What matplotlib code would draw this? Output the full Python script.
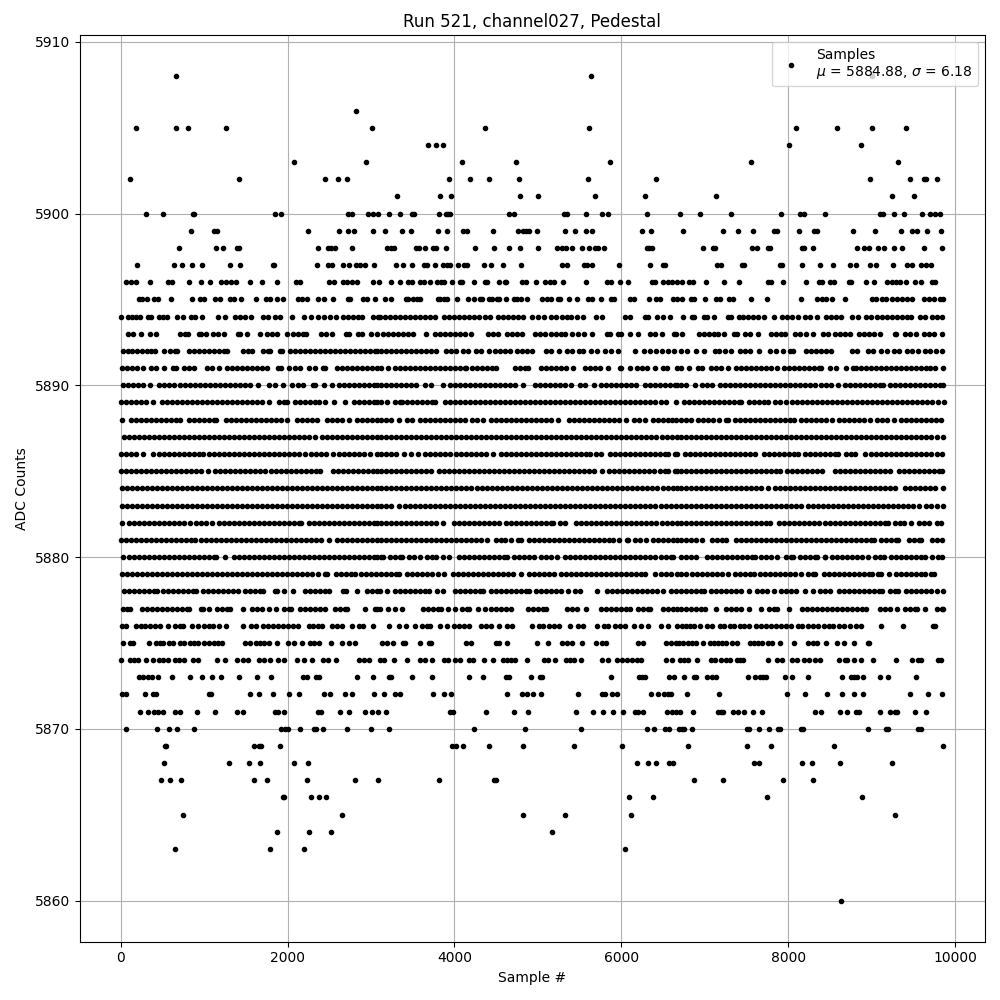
#!/usr/bin/env python3
#
# Plot pedestal samples of one ADC channel
#

import matplotlib
matplotlib.use('Agg')
import matplotlib.pyplot as plt

MEAN_ADC = 5884.88
SIGMA_ADC = 6.18

# sample numbers, one list for each ADC count
s5860 = [8636]
s5863 = [648, 1788, 2196, 6048]
s5864 = [1872, 2256, 2520, 5172]
s5865 = [744, 2652, 4824, 5328, 6120, 9284]
s5866 = [1944, 1956, 2280, 2376, 2460, 6096, 6384, 7748, 8888]
s5867 = [480, 588, 720, 1596, 1752, 2232, 2808, 3084, 3816, 4476, 4500, 6872, 7220, 7940, 8300]
s5868 = [516, 1296, 1536, 1668, 2076, 2244, 6192, 6324, 6420, 6576, 6624, 7592, 7652, 8168, 8288, 8624, 9248]
s5869 = [528, 544, 1596, 1656, 1680, 1908, 3972, 4020, 4104, 4416, 4824, 5436, 6012, 6800, 7508, 7796, 8552, 9860]
s5870 = [60, 432, 576, 672, 876, 1920, 1968, 2004, 2148, 2316, 2340, 2424, 2712, 3000, 3216, 4236, 4848, 5520, 6312,
         6396, 6528, 6576, 6692, 6728, 6752, 6848, 7508, 7532, 7652, 7772, 7880, 7904, 8156, 8180, 8960, 9176, 9200,
         9560, 9596]
s5871 = [228, 324, 396, 444, 504, 648, 708, 912, 1128, 1392, 1464, 1848, 1884, 1956, 2364, 2400, 2628, 2736, 2928,
         3012, 3084, 3180, 3948, 3984, 4380, 4716, 4884, 5460, 5664, 5784, 5904, 6024, 6168, 6204, 6264, 6552, 6612,
         6660, 6704, 6860, 7160, 7196, 7220, 7340, 7400, 7472, 7580, 7688, 8324, 8396, 8624, 8708, 8816, 8852, 9104,
         9224, 9284, 9308, 9524, 9656]
s5872 = [12, 60, 288, 384, 420, 1056, 1080, 1548, 1656, 1824, 2016, 2136, 2436, 2508, 2688, 2772, 3036, 3156, 3288,
         3348, 3744, 3876, 3960, 4632, 4812, 4872, 4944, 5040, 5484, 5772, 5808, 5892, 5952, 6360, 6444, 6516, 6564,
         6600, 6788, 7172, 7988, 8204, 8468, 8648, 8792, 8900, 9464, 9680, 9848]
s5873 = [216, 264, 324, 372, 444, 612, 828, 972, 1092, 1200, 1416, 1632, 1800, 2184, 2232, 2340, 2376, 2832, 3024,
         3216, 3240, 3492, 3732, 4176, 4344, 4620, 4656, 4920, 5028, 5052, 5880, 6216, 6252, 6288, 6576, 6636, 6752,
         6872, 6896, 7028, 7088, 7136, 7520, 7604, 7664, 7700, 7736, 7964, 8048, 8240, 8648, 8756, 8792, 8828, 8900,
         9104, 9200, 9536]
s5874 = [0, 108, 156, 204, 300, 384, 456, 504, 564, 648, 696, 756, 864, 924, 1152, 1248, 1392, 1464, 1524, 1656, 1716,
         1788, 1884, 1956, 2112, 2196, 2292, 2424, 2484, 2580, 2856, 2916, 2976, 3108, 3156, 3276, 3432, 3588, 3648,
         3732, 3876, 3924, 4008, 4068, 4176, 4224, 4356, 4464, 4584, 4632, 4680, 4728, 4872, 5076, 5124, 5208, 5340,
         5388, 5436, 5520, 5772, 5844, 5952, 6012, 6072, 6132, 6192, 6240, 6540, 6612, 6704, 6752, 6800, 6908, 7076,
         7124, 7196, 7256, 7304, 7388, 7424, 7460, 7760, 7868, 7928, 8048, 8108, 8192, 8252, 8324, 8384, 8612, 8684,
         8708, 8792, 8876, 9020, 9296, 9488, 9560, 9596, 9800, 9836]
s5875 = [24, 108, 144, 336, 420, 468, 504, 576, 624, 708, 756, 828, 876, 924, 996, 1056, 1116, 1164, 1212, 1488, 1548,
         1620, 1668, 1716, 1776, 1872, 2004, 2076, 2172, 2268, 2316, 2376, 2520, 2652, 2736, 2808, 3132, 3192, 3264,
         3384, 3408, 3588, 3696, 3720, 4140, 4200, 4500, 4536, 4632, 4992, 5124, 5292, 5352, 5412, 5532, 5700, 5772,
         5820, 6204, 6264, 6540, 6600, 6660, 6688, 6740, 6800, 6848, 6896, 6980, 7064, 7112, 7160, 7208, 7256, 7328,
         7388, 7544, 7592, 7640, 7688, 7760, 7808, 7904, 8072, 8240, 8300, 8348, 8456, 8588, 8672, 8792, 8960, 8972]
s5876 = [12, 60, 180, 240, 288, 348, 408, 468, 564, 648, 708, 744, 852, 924, 996, 1056, 1104, 1176, 1260, 1464, 1560,
         1620, 1704, 1764, 1824, 1884, 1944, 2004, 2064, 2124, 2256, 2304, 2364, 2412, 2532, 2592, 2652, 2772, 2856,
         2904, 3024, 3216, 3336, 3420, 3528, 3612, 3672, 3708, 3828, 3912, 4000, 4060, 4120, 4176, 4320, 4380, 4440,
         4536, 4632, 4692, 4932, 5016, 5064, 5136, 5196, 5256, 5388, 5484, 5544, 5712, 5796, 5844, 5928, 5988, 6048,
         6156, 6240, 6324, 6480, 6564, 6672, 6728, 6776, 6824, 6872, 6944, 7028, 7088, 7184, 7232, 7304, 7352, 7424,
         7472, 7532, 7616, 7676, 7736, 7796, 7856, 7916, 7976, 8036, 8120, 8168, 8240, 8300, 8360, 8432, 8492, 8540,
         8612, 8672, 8744, 8816, 8876, 9116, 9380, 9740, 9764]
s5877 = [25, 80, 115, 254, 310, 370, 430, 490, 550, 610, 670, 730, 790, 814, 966, 986, 1060, 1154, 1214, 1274, 1306,
         1464, 1574, 1634, 1694, 1774, 1862, 1958, 2018, 2042, 2154, 2214, 2274, 2334, 2394, 2454, 2566, 2626, 2686,
         2714, 2928, 3054, 3074, 3108, 3204, 3286, 3374, 3622, 3682, 3742, 3802, 3842, 3924, 4008, 4094, 4150, 4174,
         4282, 4362, 4442, 4502, 4562, 4622, 4682, 4882, 4942, 5002, 5062, 5102, 5354, 5414, 5470, 5580, 5762, 5822,
         5882, 5942, 6002, 6062, 6102, 6202, 6262, 6322, 6350, 6502, 6562, 6622, 6662, 6718, 6778, 6838, 6898, 6958,
         6998, 7138, 7258, 7318, 7378, 7438, 7530, 7678, 7766, 7826, 7866, 8012, 8166, 8226, 8286, 8346, 8406, 8466,
         8526, 8586, 8646, 8706, 8766, 8826, 8886, 8938, 9106, 9166, 9218, 9302, 9398, 9458, 9518, 9546, 9638, 9778,
         9838, 9858]
s5878 = [38, 98, 158, 218, 278, 338, 398, 434, 506, 566, 626, 686, 746, 806, 866, 906, 982, 1042, 1102, 1162, 1222,
         1282, 1342, 1410, 1486, 1546, 1606, 1666, 1706, 1846, 1874, 1962, 2068, 2206, 2266, 2326, 2386, 2446, 2502,
         2666, 2702, 2838, 2954, 3014, 3074, 3108, 3192, 3290, 3350, 3410, 3470, 3530, 3590, 3650, 3694, 3794, 3862,
         4010, 4070, 4130, 4190, 4250, 4310, 4342, 4442, 4502, 4562, 4622, 4682, 4742, 4802, 4862, 4894, 4982, 5042,
         5102, 5162, 5222, 5282, 5362, 5442, 5510, 5712, 5834, 5894, 5954, 6014, 6074, 6134, 6194, 6254, 6314, 6374,
         6434, 6502, 6594, 6654, 6718, 6778, 6838, 6898, 6958, 6994, 7078, 7138, 7198, 7258, 7318, 7378, 7438, 7530,
         7630, 7690, 7750, 7826, 7918, 7978, 8038, 8098, 8198, 8298, 8378, 8438, 8506, 8610, 8670, 8730, 8790, 8850,
         8910, 8970, 9030, 9090, 9130, 9218, 9278, 9318, 9418, 9478, 9538, 9598, 9658, 9718, 9778, 9850]
s5879 = [14, 74, 134, 194, 254, 314, 374, 434, 494, 554, 614, 674, 734, 794, 854, 914, 974, 1034, 1094, 1154, 1214,
         1274, 1334, 1394, 1454, 1514, 1574, 1634, 1694, 1754, 1814, 1874, 1934, 1994, 2054, 2114, 2174, 2234, 2294,
         2362, 2446, 2474, 2582, 2642, 2702, 2762, 2806, 2886, 2946, 3006, 3066, 3122, 3182, 3242, 3302, 3334, 3434,
         3494, 3554, 3614, 3674, 3734, 3806, 3880, 3986, 4046, 4106, 4166, 4226, 4286, 4346, 4406, 4466, 4526, 4586,
         4646, 4706, 4802, 4890, 4950, 5010, 5070, 5130, 5190, 5282, 5342, 5402, 5462, 5522, 5582, 5642, 5702, 5762,
         5822, 5882, 5942, 6002, 6062, 6122, 6182, 6242, 6282, 6410, 6470, 6530, 6590, 6662, 6718, 6778, 6850, 6910,
         6970, 7030, 7090, 7150, 7210, 7274, 7366, 7426, 7486, 7546, 7586, 7658, 7718, 7778, 7838, 7898, 7958, 8018,
         8078, 8158, 8238, 8298, 8326, 8426, 8486, 8546, 8606, 8666, 8726, 8786, 8846, 8906, 8966, 9006, 9078, 9118,
         9214, 9290, 9350, 9410, 9470, 9530, 9590, 9638, 9718, 9746]
s5880 = [22, 102, 162, 222, 282, 342, 402, 462, 522, 582, 642, 702, 762, 822, 882, 942, 1002, 1062, 1122, 1146, 1246,
         1362, 1422, 1482, 1542, 1602, 1662, 1722, 1782, 1842, 1902, 1962, 2022, 2082, 2142, 2202, 2262, 2322, 2382,
         2442, 2502, 2562, 2622, 2682, 2742, 2802, 2862, 2922, 2982, 3042, 3074, 3122, 3142, 3222, 3282, 3342, 3374,
         3450, 3510, 3590, 3674, 3734, 3782, 3866, 3934, 4050, 4110, 4170, 4230, 4290, 4350, 4410, 4470, 4530, 4590,
         4630, 4710, 4770, 4830, 4890, 4950, 5042, 5102, 5162, 5230, 5330, 5390, 5450, 5510, 5570, 5630, 5690, 5750,
         5810, 5870, 5930, 5990, 6050, 6110, 6170, 6230, 6290, 6350, 6410, 6470, 6530, 6590, 6622, 6718, 6778, 6838,
         6898, 7030, 7090, 7150, 7210, 7270, 7330, 7390, 7450, 7510, 7570, 7602, 7678, 7738, 7798, 7866, 7970, 8030,
         8058, 8138, 8198, 8258, 8318, 8346, 8438, 8446, 8530, 8590, 8650, 8710, 8770, 8830, 8890, 8958, 9038, 9098,
         9150, 9238, 9298, 9358, 9418, 9478, 9538, 9598, 9638, 9726, 9798, 9838]
s5881 = [6, 66, 126, 186, 246, 306, 366, 426, 486, 546, 606, 666, 726, 786, 846, 894, 966, 1026, 1086, 1146, 1206,
         1266, 1326, 1386, 1446, 1506, 1566, 1626, 1686, 1746, 1806, 1866, 1926, 1986, 2046, 2106, 2166, 2226, 2286,
         2346, 2406, 2494, 2594, 2654, 2714, 2774, 2834, 2894, 2954, 3014, 3074, 3122, 3182, 3242, 3302, 3362, 3422,
         3482, 3542, 3602, 3662, 3722, 3782, 3842, 3902, 3962, 4022, 4082, 4142, 4202, 4262, 4322, 4390, 4502, 4562,
         4602, 4678, 4762, 4802, 4890, 4950, 5010, 5070, 5130, 5190, 5250, 5310, 5370, 5430, 5490, 5550, 5610, 5670,
         5730, 5790, 5850, 5902, 5972, 6066, 6082, 6162, 6222, 6302, 6382, 6442, 6502, 6562, 6622, 6662, 6718, 6778,
         6838, 6898, 6970, 7090, 7150, 7210, 7258, 7378, 7438, 7498, 7558, 7618, 7678, 7738, 7798, 7858, 7918, 7978,
         8038, 8098, 8158, 8218, 8278, 8338, 8398, 8458, 8518, 8578, 8638, 8698, 8758, 8818, 8878, 8938, 8998, 9026,
         9110, 9170, 9230, 9290, 9318, 9446, 9506, 9566, 9598, 9726, 9786, 9838]
s5882 = [18, 94, 154, 214, 274, 334, 394, 454, 514, 574, 634, 694, 754, 826, 902, 962, 1022, 1094, 1174, 1234,
         1294, 1354, 1414, 1474, 1534, 1594, 1654, 1714, 1774, 1834, 1894, 1954, 2014, 2074, 2134, 2162, 2262, 2322,
         2382, 2442, 2502, 2562, 2622, 2682, 2742, 2802, 2862, 2922, 2982, 3042, 3074, 3122, 3182, 3242, 3302, 3362,
         3422, 3482, 3542, 3602, 3662, 3722, 3782, 3862, 3990, 4050, 4110, 4170, 4230, 4290, 4350, 4410, 4470, 4534,
         4614, 4674, 4734, 4794, 4854, 4914, 4974, 5034, 5094, 5154, 5182, 5262, 5326, 5462, 5522, 5582, 5642, 5702,
         5762, 5822, 5882, 5942, 6002, 6062, 6122, 6182, 6242, 6302, 6362, 6422, 6482, 6542, 6602, 6662, 6718, 6778,
         6838, 6898, 6958, 7018, 7078, 7138, 7198, 7258, 7318, 7378, 7438, 7498, 7558, 7618, 7678, 7738, 7778, 7894,
         7954, 8014, 8074, 8134, 8194, 8254, 8314, 8370, 8446, 8506, 8566, 8626, 8686, 8746, 8806, 8866, 8926, 8986,
         9046, 9106, 9166, 9202, 9278, 9338, 9394, 9478, 9566, 9626, 9690, 9778, 9826]
s5883 = [14, 74, 134, 194, 254, 314, 374, 434, 494, 554, 614, 674, 734, 794, 854, 914, 974, 1034, 1094, 1154, 1214,
         1274, 1334, 1394, 1454, 1514, 1574, 1634, 1694, 1754, 1814, 1874, 1934, 1994, 2054, 2114, 2174, 2234, 2294,
         2354, 2414, 2474, 2534, 2594, 2654, 2714, 2774, 2834, 2894, 2954, 3014, 3074, 3122, 3182, 3242, 3334, 3410,
         3470, 3530, 3590, 3650, 3710, 3770, 3830, 3890, 3950, 4010, 4070, 4130, 4190, 4250, 4310, 4370, 4430, 4490,
         4550, 4610, 4670, 4730, 4790, 4850, 4910, 4970, 5030, 5090, 5150, 5210, 5270, 5330, 5390, 5450, 5510, 5570,
         5630, 5690, 5750, 5810, 5870, 5930, 5990, 6050, 6110, 6170, 6230, 6290, 6350, 6410, 6470, 6530, 6590, 6650,
         6718, 6778, 6838, 6898, 6958, 7018, 7078, 7138, 7198, 7258, 7318, 7378, 7438, 7498, 7558, 7618, 7678, 7738,
         7798, 7858, 7918, 7978, 8038, 8098, 8158, 8238, 8298, 8358, 8418, 8478, 8538, 8598, 8658, 8718, 8778, 8838,
         8898, 8958, 9018, 9078, 9138, 9198, 9258, 9318, 9378, 9438, 9498, 9566, 9658, 9718, 9778, 9850]
s5884 = [14, 74, 134, 194, 254, 314, 374, 434, 494, 554, 614, 674, 734, 794, 854, 914, 974, 1034, 1094, 1154, 1214,
         1274, 1334, 1394, 1454, 1514, 1574, 1634, 1694, 1754, 1814, 1874, 1934, 1994, 2054, 2114, 2174, 2234, 2294,
         2354, 2414, 2474, 2534, 2594, 2654, 2714, 2774, 2834, 2894, 2954, 3014, 3074, 3122, 3182, 3242, 3302, 3362,
         3422, 3482, 3542, 3602, 3662, 3722, 3782, 3842, 3902, 3962, 4022, 4082, 4142, 4202, 4274, 4334, 4394, 4454,
         4514, 4574, 4634, 4694, 4754, 4814, 4874, 4934, 4994, 5054, 5114, 5174, 5234, 5294, 5354, 5414, 5474, 5534,
         5594, 5654, 5714, 5774, 5834, 5894, 5954, 6014, 6074, 6134, 6194, 6254, 6314, 6374, 6434, 6494, 6554, 6614,
         6662, 6718, 6778, 6838, 6898, 6958, 7018, 7078, 7138, 7198, 7258, 7318, 7378, 7438, 7498, 7558, 7618, 7678,
         7758, 7838, 7898, 7958, 8018, 8078, 8138, 8198, 8258, 8318, 8378, 8438, 8498, 8558, 8618, 8678, 8738, 8798,
         8858, 8918, 8978, 9038, 9098, 9158, 9218, 9282, 9398, 9458, 9518, 9578, 9638, 9698, 9758, 9850]
s5885 = [6, 66, 126, 186, 246, 306, 366, 426, 486, 546, 606, 666, 726, 786, 846, 906, 966, 1042, 1126, 1186, 1246,
         1306, 1366, 1426, 1486, 1546, 1606, 1666, 1726, 1806, 1866, 1926, 1986, 2046, 2106, 2166, 2226, 2286, 2346,
         2394, 2542, 2602, 2662, 2722, 2782, 2842, 2902, 2962, 3022, 3074, 3122, 3182, 3242, 3302, 3362, 3422, 3482,
         3542, 3602, 3662, 3722, 3818, 3878, 3938, 3998, 4058, 4118, 4178, 4238, 4298, 4358, 4418, 4478, 4538, 4598,
         4658, 4718, 4778, 4838, 4898, 4958, 5018, 5078, 5138, 5198, 5258, 5318, 5378, 5438, 5498, 5558, 5618, 5678,
         5774, 5858, 5918, 5978, 6038, 6098, 6158, 6218, 6278, 6338, 6398, 6458, 6518, 6562, 6642, 6662, 6718, 6778,
         6838, 6898, 6958, 7018, 7078, 7138, 7198, 7258, 7318, 7378, 7438, 7498, 7558, 7618, 7678, 7738, 7798, 7858,
         7906, 7982, 8042, 8102, 8162, 8222, 8282, 8342, 8410, 8558, 8618, 8678, 8738, 8798, 8858, 8918, 8978, 9038,
         9098, 9158, 9218, 9326, 9386, 9446, 9506, 9566, 9626, 9686, 9746, 9806, 9838]
s5886 = [6, 66, 126, 186, 266, 382, 462, 522, 582, 642, 702, 762, 822, 882, 942, 986, 1062, 1122, 1182, 1242, 1302,
         1362, 1422, 1482, 1542, 1602, 1662, 1722, 1782, 1842, 1902, 1962, 2022, 2082, 2142, 2210, 2286, 2346, 2406,
         2466, 2546, 2622, 2682, 2742, 2802, 2862, 2922, 2986, 3070, 3122, 3182, 3242, 3302, 3390, 3474, 3562, 3642,
         3702, 3762, 3822, 3882, 3950, 4022, 4082, 4142, 4202, 4262, 4322, 4382, 4462, 4554, 4614, 4674, 4734, 4794,
         4854, 4914, 4974, 5034, 5094, 5154, 5214, 5274, 5334, 5394, 5454, 5514, 5574, 5622, 5702, 5762, 5862, 5922,
         5982, 6042, 6102, 6162, 6222, 6282, 6342, 6402, 6462, 6522, 6562, 6642, 6662, 6758, 6818, 6878, 6938, 6998,
         7058, 7118, 7178, 7238, 7298, 7358, 7418, 7478, 7538, 7606, 7706, 7766, 7826, 7886, 7946, 8006, 8066, 8118,
         8198, 8258, 8318, 8378, 8438, 8498, 8558, 8602, 8698, 8758, 8798, 8922, 8998, 9058, 9118, 9178, 9238, 9298,
         9358, 9418, 9478, 9538, 9598, 9658, 9718, 9778, 9838]
s5887 = [42, 102, 162, 222, 282, 342, 402, 462, 522, 582, 642, 702, 762, 822, 882, 942, 1002, 1062, 1122, 1182, 1242,
         1302, 1362, 1422, 1482, 1542, 1602, 1662, 1722, 1782, 1842, 1902, 1962, 2022, 2082, 2142, 2202, 2262, 2334,
         2414, 2474, 2534, 2594, 2654, 2714, 2774, 2834, 2894, 2954, 3014, 3074, 3122, 3182, 3242, 3302, 3362, 3422,
         3482, 3542, 3602, 3662, 3722, 3782, 3842, 3902, 3962, 4022, 4082, 4142, 4202, 4262, 4322, 4382, 4442, 4502,
         4562, 4622, 4682, 4742, 4802, 4862, 4922, 4982, 5042, 5102, 5162, 5222, 5282, 5342, 5402, 5462, 5522, 5582,
         5642, 5702, 5762, 5822, 5882, 5942, 6002, 6062, 6122, 6182, 6242, 6302, 6362, 6422, 6482, 6542, 6602, 6662,
         6718, 6778, 6838, 6898, 6958, 7018, 7078, 7138, 7198, 7258, 7318, 7378, 7438, 7498, 7558, 7618, 7678, 7738,
         7798, 7858, 7918, 7978, 8038, 8098, 8158, 8218, 8278, 8338, 8398, 8458, 8518, 8578, 8638, 8698, 8758, 8818,
         8878, 8938, 8998, 9058, 9118, 9178, 9238, 9298, 9358, 9418, 9478, 9538, 9598, 9658, 9718, 9778, 9858]
s5888 = [14, 126, 186, 246, 306, 366, 426, 486, 546, 606, 666, 706, 814, 874, 934, 994, 1054, 1114, 1142, 1262, 1322,
         1382, 1442, 1502, 1562, 1622, 1682, 1742, 1802, 1862, 1922, 1994, 2118, 2178, 2238, 2298, 2354, 2474, 2534,
         2594, 2654, 2734, 2834, 2894, 2954, 3014, 3074, 3122, 3182, 3242, 3334, 3434, 3494, 3582, 3642, 3702, 3762,
         3822, 3882, 3942, 4002, 4062, 4122, 4210, 4270, 4342, 4434, 4494, 4554, 4614, 4674, 4734, 4794, 4854, 4914,
         4974, 5034, 5094, 5154, 5242, 5370, 5430, 5490, 5550, 5610, 5670, 5730, 5790, 5850, 5910, 5970, 6054, 6150,
         6210, 6286, 6382, 6442, 6502, 6562, 6602, 6660, 6718, 6778, 6838, 6918, 6978, 7038, 7098, 7170, 7250, 7278,
         7358, 7418, 7478, 7538, 7598, 7658, 7718, 7778, 7838, 7898, 7958, 8018, 8066, 8150, 8210, 8270, 8330, 8390,
         8450, 8522, 8606, 8666, 8726, 8786, 8846, 8906, 8978, 9062, 9122, 9182, 9266, 9350, 9410, 9470, 9530, 9590,
         9650, 9710, 9770, 9826]
s5889 = [6, 66, 126, 186, 246, 306, 386, 498, 558, 618, 678, 738, 798, 858, 918, 978, 1038, 1098, 1158, 1218, 1278,
         1338, 1398, 1458, 1518, 1578, 1638, 1698, 1778, 1902, 1962, 1994, 2094, 2154, 2214, 2274, 2334, 2374, 2454,
         2554, 2688, 2802, 2862, 2922, 2982, 3042, 3074, 3122, 3190, 3290, 3350, 3374, 3432, 3492, 3552, 3612, 3672,
         3732, 3762, 3890, 3950, 4010, 4070, 4130, 4190, 4250, 4310, 4370, 4430, 4490, 4550, 4610, 4670, 4730, 4790,
         4850, 4910, 4970, 5030, 5090, 5150, 5210, 5270, 5330, 5390, 5450, 5510, 5570, 5630, 5690, 5750, 5810, 5870,
         5930, 5990, 6050, 6110, 6170, 6230, 6290, 6350, 6410, 6470, 6534, 6658, 6750, 6810, 6870, 6930, 6990, 7050,
         7110, 7170, 7230, 7290, 7350, 7410, 7438, 7526, 7586, 7646, 7706, 7758, 7838, 7898, 7978, 8050, 8110, 8170,
         8230, 8290, 8350, 8410, 8470, 8530, 8590, 8650, 8710, 8770, 8830, 8890, 8950, 9010, 9070, 9130, 9190, 9250,
         9310, 9370, 9430, 9490, 9550, 9610, 9670, 9730, 9790, 9866]
s5890 = [22, 82, 142, 202, 262, 346, 462, 522, 582, 634, 714, 774, 834, 894, 954, 1014, 1074, 1134, 1194, 1254, 1314,
         1374, 1434, 1494, 1554, 1642, 1782, 1854, 1950, 2054, 2126, 2186, 2306, 2334, 2442, 2534, 2622, 2682, 2742,
         2802, 2862, 2922, 2982, 3042, 3074, 3122, 3182, 3242, 3302, 3362, 3422, 3482, 3542, 3642, 3722, 3862, 3942,
         4002, 4062, 4122, 4182, 4242, 4302, 4362, 4422, 4482, 4542, 4602, 4662, 4722, 4822, 4962, 5022, 5082, 5142,
         5202, 5262, 5322, 5402, 5510, 5570, 5670, 5762, 5822, 5882, 5942, 6002, 6062, 6122, 6182, 6282, 6342, 6402,
         6462, 6522, 6582, 6642, 6662, 6718, 6778, 6886, 6970, 7030, 7086, 7178, 7238, 7298, 7358, 7418, 7478, 7538,
         7598, 7658, 7718, 7778, 7838, 7898, 7958, 8018, 8078, 8138, 8198, 8258, 8318, 8398, 8458, 8518, 8598, 8686,
         8746, 8806, 8866, 8926, 8986, 9046, 9106, 9138, 9218, 9278, 9338, 9398, 9458, 9518, 9578, 9638, 9698, 9758,
         9818, 9850]
s5891 = [14, 74, 134, 194, 266, 366, 426, 514, 626, 666, 758, 818, 874, 1038, 1098, 1174, 1278, 1338, 1398, 1458, 1518,
         1578, 1638, 1698, 1754, 1886, 1922, 2022, 2094, 2154, 2254, 2328, 2422, 2454, 2594, 2654, 2714, 2774, 2834,
         2894, 2954, 3014, 3074, 3122, 3202, 3282, 3342, 3402, 3462, 3522, 3582, 3642, 3702, 3762, 3822, 3882, 3942,
         4002, 4062, 4122, 4142, 4214, 4274, 4334, 4394, 4454, 4502, 4722, 4782, 4842, 4882, 5042, 5102, 5162, 5222,
         5282, 5342, 5422, 5562, 5622, 5682, 5742, 5836, 5986, 6002, 6110, 6194, 6254, 6314, 6402, 6494, 6550, 6662,
         6718, 6810, 6918, 6970, 7070, 7130, 7190, 7278, 7378, 7438, 7498, 7558, 7618, 7678, 7738, 7798, 7866, 7946,
         8006, 8066, 8126, 8186, 8246, 8306, 8366, 8398, 8498, 8578, 8688, 8780, 8810, 8870, 8930, 8990, 9050, 9110,
         9170, 9230, 9290, 9350, 9410, 9470, 9530, 9590, 9650, 9698, 9766, 9858]
s5892 = [30, 85, 140, 200, 255, 310, 365, 415, 524, 590, 650, 672, 814, 874, 934, 994, 1054, 1114, 1174, 1234, 1274,
         1462, 1522, 1574, 1702, 1762, 1786, 1914, 1934, 2034, 2094, 2154, 2214, 2274, 2334, 2394, 2454, 2514, 2574,
         2634, 2694, 2754, 2814, 2874, 2934, 2994, 3054, 3074, 3122, 3182, 3242, 3302, 3362, 3422, 3482, 3542, 3602,
         3662, 3722, 3782, 3902, 3962, 4024, 4104, 4164, 4254, 4314, 4416, 4484, 4544, 4604, 4664, 4754, 4814, 4874,
         4934, 5100, 5160, 5248, 5350, 5410, 5490, 5540, 5640, 5710, 5800, 5880, 5960, 6170, 6274, 6340, 6420, 6492,
         6556, 6628, 6716, 6788, 6890, 6990, 7128, 7176, 7244, 7320, 7420, 7480, 7544, 7650, 7780, 7860, 7938, 8018,
         8060, 8218, 8278, 8338, 8398, 8458, 8518, 8760, 8820, 8960, 9016, 9114, 9180, 9268, 9330, 9420, 9480, 9560,
         9636, 9700, 9776, 9840]
s5893 = [90, 150, 246, 352, 420, 714, 774, 806, 934, 960, 1020, 1106, 1166, 1234, 1402, 1434, 1510, 1670, 1754, 1814,
         1874, 1994, 2062, 2122, 2182, 2216, 2406, 2466, 2536, 2702, 2736, 2846, 2896, 3006, 3076, 3142, 3202, 3262,
         3322, 3382, 3442, 3502, 3660, 3762, 3822, 3882, 3942, 4002, 4062, 4124, 4204, 4402, 4462, 4522, 4634, 4694,
         4754, 4814, 4962, 5022, 5082, 5162, 5222, 5282, 5322, 5410, 5482, 5552, 5652, 5834, 5862, 5962, 6002, 6102,
         6204, 6342, 6402, 6482, 6630, 6660, 6728, 6930, 6990, 7050, 7110, 7158, 7228, 7350, 7386, 7478, 7538, 7638,
         7790, 7850, 7910, 7966, 8078, 8138, 8218, 8300, 8418, 8478, 8566, 8626, 8686, 8738, 8850, 8910, 8970, 9030,
         9106, 9278, 9298, 9398, 9458, 9530, 9630, 9690, 9750, 9838]
s5894 = [0, 84, 132, 180, 228, 324, 360, 456, 504, 552, 672, 744, 840, 888, 972, 1164, 1248, 1368, 1428, 1488, 1560,
         1704, 1764, 1848, 1908, 2052, 2196, 2280, 2364, 2436, 2508, 2580, 2664, 2724, 2784, 2844, 2892, 3024, 3084,
         3112, 3172, 3232, 3292, 3352, 3412, 3472, 3532, 3592, 3652, 3712, 3772, 3872, 3932, 3992, 4052, 4112, 4172,
         4232, 4292, 4364, 4432, 4524, 4584, 4644, 4704, 4764, 4824, 4932, 5004, 5072, 5152, 5212, 5292, 5352, 5392,
         5472, 5540, 5700, 5772, 6044, 6104, 6288, 6316, 6432, 6504, 6588, 6740, 6848, 6872, 6992, 7032, 7112, 7280,
         7316, 7412, 7460, 7520, 7580, 7640, 7712, 7832, 7928, 7988, 8048, 8120, 8204, 8264, 8348, 8456, 8516, 8576,
         8636, 8768, 8840, 8936, 8996, 9068, 9128, 9188, 9248, 9308, 9368, 9428, 9476, 9584, 9644, 9728, 9788, 9848]
s5895 = [216, 252, 312, 396, 444, 600, 852, 948, 996, 1128, 1188, 1308, 1356, 1440, 1620, 1740, 1788, 1872, 1944,
         2124, 2172, 2232, 2364, 2436, 2544, 2724, 2748, 2904, 2952, 3048, 3168, 3240, 3420, 3444, 3504, 3552, 3588,
         3804, 3828, 3876, 3912, 4032, 4164, 4236, 4308, 4332, 4416, 4452, 4512, 4536, 4620, 4716, 4752, 4800, 4872,
         5052, 5112, 5160, 5244, 5268, 5376, 5472, 5604, 5652, 5760, 5880, 5916, 6108, 6156, 6336, 6420, 6468, 6624,
         6672, 6728, 6836, 6872, 7004, 7136, 7184, 7292, 7340, 7556, 7748, 8156, 8348, 8408, 8456, 8528, 8684, 9008,
         9056, 9128, 9176, 9248, 9308, 9368, 9428, 9488, 9632, 9692, 9752, 9824, 9860]
s5896 = [60, 120, 180, 348, 564, 612, 816, 960, 1068, 1204, 1264, 1324, 1384, 1548, 1692, 1872, 2100, 2148, 2496, 2556,
         2668, 2716, 2776, 2832, 3024, 3092, 3240, 3348, 3444, 3492, 3588, 3636, 3708, 3792, 3840, 3876, 3972, 4068,
         4092, 4236, 4368, 4392, 4536, 4608, 4620, 4812, 4860, 4980, 5088, 5148, 5196, 5304, 5580, 5832, 5880, 5988,
         6084, 6372, 6408, 6504, 6564, 6612, 6672, 6728, 6812, 6860, 7016, 7232, 7412, 7760, 7796, 7940, 8216, 8372,
         8408, 8504, 8552, 8732, 8756, 8936, 9032, 9188, 9248, 9296, 9344, 9416, 9524, 9596, 9728, 9764]
s5897 = [192, 636, 732, 852, 972, 1308, 1428, 1824, 1840, 2352, 2484, 2532, 2664, 2736, 2820, 2868, 2928, 3036, 3300,
         3384, 3492, 3636, 3672, 3768, 3864, 3912, 3948, 4044, 4116, 4152, 4356, 4440, 4584, 4800, 5292, 5352, 5556,
         5592, 5652, 5976, 6348, 6504, 6528, 7148, 7196, 7448, 7472, 7904, 7928, 8168, 8384, 8540, 8744, 8816, 8984,
         9056, 9260, 9428, 9488, 9596, 9656, 9716]
s5898 = [696, 1140, 1224, 1392, 1424, 2364, 2484, 2524, 2564, 2772, 3192, 3240, 3276, 3540, 3576, 3648, 3744, 3780,
         3900, 4248, 4476, 4656, 4788, 5004, 5232, 5292, 5340, 5412, 5532, 5616, 5688, 5724, 5796, 6312, 6336, 6372,
         6984, 7100, 7124, 7568, 7628, 7760, 7784, 8168, 8192, 8300, 8828, 8912, 8972, 9080, 9152, 9272, 9368, 9632,
         9848]
s5899 = [840, 1124, 1152, 2244, 2616, 2724, 2796, 3024, 3168, 3372, 3480, 3804, 3912, 4104, 4152, 4464, 4764, 4824,
         4860, 4896, 4992, 5328, 5448, 5580, 5652, 6252, 6360, 6740, 7220, 7400, 7580, 7832, 7868, 8132, 8312, 8348,
         8780, 9044, 9356, 9488, 9548, 9668, 9836]
s5900 = [300, 504, 864, 880, 1848, 1920, 2724, 2772, 2964, 3024, 3084, 3216, 3348, 3492, 3520, 3816, 3900, 3924, 3948,
         4656, 4716, 5316, 5352, 5580, 5772, 5844, 6312, 6704, 6944, 7316, 7916, 8144, 8192, 8444, 9104, 9140, 9272,
         9392, 9608, 9704, 9764, 9824]
s5901 = [3312, 3828, 3960, 4788, 5004, 5688, 6288, 7136, 9248, 9512]
s5902 = [108, 1416, 2448, 2604, 2712, 3936, 4188, 4416, 4776, 5604, 6420, 8984, 9464, 9632, 9656, 9788]
s5903 = [2076, 2940, 4092, 4740, 5868, 7556, 9320]
s5904 = [3684, 3780, 3864, 8012, 8876]
s5905 = [180, 660, 804, 1260, 3012, 4368, 5616, 8096, 8588, 9008, 9416]
s5906 = [2820]
s5908 = [660, 5640, 9008]

adc_levels = [5860, 5863, 5864, 5865, 5866, 5867, 5868, 5869, 5870, 5871, 5872, 5873, 5874, 5875, 5876, 5877, 5878,
              5879, 5880, 5881, 5882, 5883, 5884, 5885, 5886, 5887, 5888, 5889, 5890, 5891, 5892, 5893, 5894, 5895,
              5896, 5897, 5898, 5899, 5900, 5901, 5902, 5903, 5904, 5905, 5906, 5908]
samples_by_level = [s5860, s5863, s5864, s5865, s5866, s5867, s5868, s5869, s5870, s5871, s5872, s5873, s5874, s5875,
                    s5876, s5877, s5878, s5879, s5880, s5881, s5882, s5883, s5884, s5885, s5886, s5887, s5888, s5889,
                    s5890, s5891, s5892, s5893, s5894, s5895, s5896, s5897, s5898, s5899, s5900, s5901, s5902, s5903,
                    s5904, s5905, s5906, s5908]


def plot():
    x = []
    y = []
    for level, samples in zip(adc_levels, samples_by_level):
        x.extend(samples)
        y.extend([level] * len(samples))

    fig, ax = plt.subplots(figsize=(10, 10))
    ax.plot(x, y, 'k.', label=f'Samples\n$\\mu$ = {MEAN_ADC:.2f}, $\\sigma$ = {SIGMA_ADC:.2f}')
    ax.set_title('Run 521, channel027, Pedestal')
    ax.set_xlabel('Sample #')
    ax.set_ylabel('ADC Counts')
    ax.grid(True)
    ax.legend(loc='upper right')
    fig.tight_layout()
    # the axes reach 2 px higher than tight_layout puts them
    fig.subplots_adjust(top=0.965)
    fig.savefig('out.png', dpi=100)


if __name__ == '__main__':
    plot()
